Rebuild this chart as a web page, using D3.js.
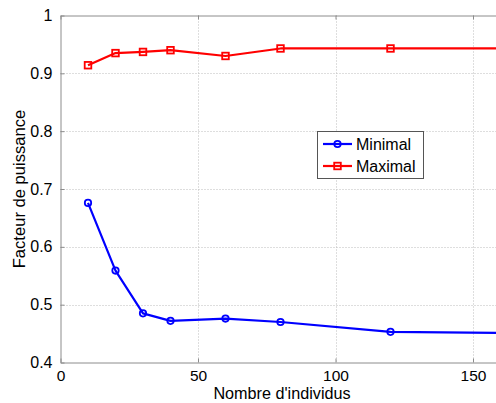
<!DOCTYPE html>
<html><head><meta charset="utf-8">
<script src="https://cdn.jsdelivr.net/npm/d3@7"></script>
<style>
html,body{margin:0;padding:0;background:#fff;}
svg{display:block;font-family:"Liberation Sans",Arial,Helvetica,sans-serif;}
</style></head>
<body><svg id="c" width="496" height="403"></svg>
<script>
const xValues = [10, 20, 30, 40, 60, 80, 120, 160];
const minimal = [0.676, 0.559, 0.485, 0.472, 0.476, 0.470, 0.453, 0.451];
const maximal = [0.914, 0.935, 0.937, 0.940, 0.930, 0.943, 0.943, 0.943];
const xTicks = [0, 50, 100, 150];
const yTicks = [0.4, 0.5, 0.6, 0.7, 0.8, 0.9, 1];
const seriesNames = ["Minimal", "Maximal"];
const seriesColors = ["#0000ff", "#ff0000"];

const svg = d3.select("#c");
const L = 60.5, R = 500.5, T = 15.5, B = 362.5;
const x = d3.scaleLinear().domain([0, 160]).range([L, R]);
const y = d3.scaleLinear().domain([0.4, 1]).range([B, T]);

svg.append("rect").attr("x", 0).attr("y", 0).attr("width", 496).attr("height", 403).attr("fill", "#fff");

// grid
const grid = svg.append("g");
grid.selectAll("line.gx").data(xTicks.filter(d => d > 0)).enter().append("line")
  .attr("x1", d => Math.round(x(d)) + 0.5).attr("x2", d => Math.round(x(d)) + 0.5)
  .attr("y1", T).attr("y2", B)
  .attr("stroke", "#bcbcbc").attr("stroke-width", 1).attr("stroke-dasharray", "1,2");
grid.selectAll("line.gy").data(yTicks.filter(d => d > 0.4 && d < 1)).enter().append("line")
  .attr("y1", d => Math.round(y(d)) + 0.5).attr("y2", d => Math.round(y(d)) + 0.5)
  .attr("x1", L).attr("x2", R)
  .attr("stroke", "#bcbcbc").attr("stroke-width", 1).attr("stroke-dasharray", "1,2");

// axes
const xAxisB = d3.axisBottom(x).tickValues(xTicks).tickSizeInner(-4).tickSizeOuter(0).tickPadding(7).tickFormat(d3.format("d"));
const xAxisT = d3.axisTop(x).tickValues(xTicks).tickSizeInner(-4).tickSizeOuter(0).tickFormat("");
const yAxisL = d3.axisLeft(y).tickValues(yTicks).tickSizeInner(-4).tickSizeOuter(0).tickPadding(8).tickFormat(d => d === 1 ? "1" : d3.format(".1f")(d));

function styleAxis(g, fs) {
  g.select(".domain").attr("stroke", "#8c8c8c");
  g.selectAll(".tick line").attr("stroke", "#8c8c8c");
  g.selectAll(".tick text").attr("fill", "#000").attr("font-size", fs).attr("font-family", "Liberation Sans, Arial, sans-serif");
}
svg.append("g").attr("transform", `translate(0,${B})`).call(xAxisB).call(styleAxis, 15.5);
svg.append("g").attr("transform", `translate(0,${T})`).call(xAxisT).call(styleAxis, 15.5);
svg.append("g").attr("transform", `translate(${L},0)`).call(yAxisL).call(styleAxis, 16);

// lines
const allSeries = [minimal, maximal];
const line = d3.line().x((d, i) => x(xValues[i])).y(d => y(d));
allSeries.forEach((s, k) => {
  svg.append("path").datum(s).attr("d", line).attr("fill", "none")
    .attr("stroke", seriesColors[k]).attr("stroke-width", 2.2).attr("stroke-linejoin", "round");
});
// markers
svg.selectAll("circle.m").data(minimal).enter().append("circle")
  .attr("cx", (d, i) => x(xValues[i])).attr("cy", d => y(d)).attr("r", 3.2)
  .attr("fill", "none").attr("stroke", seriesColors[0]).attr("stroke-width", 1.8);
svg.selectAll("rect.m").data(maximal).enter().append("rect")
  .attr("x", (d, i) => x(xValues[i]) - 3.3).attr("y", d => y(d) - 3.3)
  .attr("width", 6.6).attr("height", 6.6)
  .attr("fill", "none").attr("stroke", seriesColors[1]).attr("stroke-width", 1.8);

// axis labels
svg.append("text").attr("x", 282).attr("y", 399).attr("text-anchor", "middle")
  .attr("font-size", 16.2).text("Nombre d'individus");
svg.append("text").attr("transform", "translate(25,189) rotate(-90)").attr("text-anchor", "middle")
  .attr("font-size", 16.6).text("Facteur de puissance");

// legend
const lg = svg.append("g");
lg.append("rect").attr("x", 317.5).attr("y", 131.5).attr("width", 106).attr("height", 47)
  .attr("fill", "#fff").attr("stroke", "#555").attr("stroke-width", 1);
seriesNames.forEach((n, k) => {
  const yy = 144 + k * 22;
  lg.append("line").attr("x1", 323).attr("x2", 352).attr("y1", yy).attr("y2", yy)
    .attr("stroke", seriesColors[k]).attr("stroke-width", 2.2);
  if (k === 0) {
    lg.append("circle").attr("cx", 337.5).attr("cy", yy).attr("r", 3.2)
      .attr("fill", "none").attr("stroke", seriesColors[k]).attr("stroke-width", 1.8);
  } else {
    lg.append("rect").attr("x", 334.2).attr("y", yy - 3.3).attr("width", 6.6).attr("height", 6.6)
      .attr("fill", "none").attr("stroke", seriesColors[k]).attr("stroke-width", 1.8);
  }
  lg.append("text").attr("x", 356).attr("y", yy + 6).attr("font-size", 16).text(n);
});
</script></body></html>
